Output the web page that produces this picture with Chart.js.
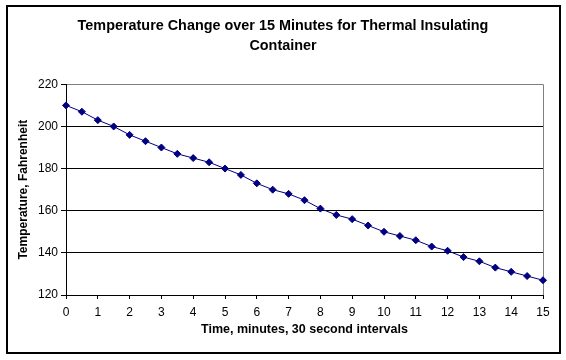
<!DOCTYPE html>
<html>
<head>
<meta charset="utf-8">
<script src="https://cdn.jsdelivr.net/npm/chart.js@4.4.0/dist/chart.umd.min.js"></script>
<style>
  html, body { margin: 0; padding: 0; background: #fff; }
  #wrap { width: 566px; height: 360px; }
</style>
</head>
<body>
<div id="wrap"><canvas id="tempChart" width="566" height="360"></canvas></div>
<script>
// minutes, every 30 seconds
const minutes = [0, 0.5, 1, 1.5, 2, 2.5, 3, 3.5, 4, 4.5, 5, 5.5, 6, 6.5, 7, 7.5,
  8, 8.5, 9, 9.5, 10, 10.5, 11, 11.5, 12, 12.5, 13, 13.5, 14, 14.5, 15];
const temps = [210, 207, 203, 200, 196, 193, 190, 187, 185, 183, 180, 177, 173, 170, 168, 165,
  161, 158, 156, 153, 150, 148, 146, 143, 141, 138, 136, 133, 131, 129, 127];
const titleLines = ['Temperature Change over 15 Minutes for Thermal Insulating', 'Container'];
const xTitle = 'Time, minutes, 30 second intervals';
const yTitle = 'Temperature, Fahrenheit';

// outer frame like the excel chart border
const frame = {
  id: 'frame',
  beforeDraw(chart) {
    const c = chart.ctx;
    c.save();
    c.fillStyle = '#fff';
    c.fillRect(0, 0, chart.width, chart.height);
    c.strokeStyle = '#000';
    c.lineWidth = 2;
    c.strokeRect(7, 6, 553, 347);
    c.restore();
  }
};

const ctx = document.getElementById('tempChart').getContext('2d');
new Chart(ctx, {
  type: 'line',
  data: {
    datasets: [{
      data: minutes.map((m, i) => ({ x: m, y: temps[i] })),
      borderColor: '#000080',
      backgroundColor: '#000080',
      borderWidth: 1,
      pointStyle: 'rectRot',
      pointRadius: 3.5,
      pointHoverRadius: 3.5,
      tension: 0,
      clip: false
    }]
  },
  options: {
    responsive: false,
    animation: false,
    layout: { padding: 0 },
    plugins: {
      legend: { display: false },
      tooltip: { enabled: false },
      title: {
        display: true,
        text: titleLines,
        color: '#000',
        font: { family: 'Liberation Sans', size: 14.4, weight: 'bold', lineHeight: 1.4 },
        padding: { top: 16, bottom: 28 }
      }
    },
    scales: {
      x: {
        type: 'linear',
        min: 0,
        max: 15,
        afterFit(scale) { scale.height = 65; },
        ticks: {
          stepSize: 1,
          color: '#000',
          padding: 6,
          maxRotation: 0,
          font: { family: 'Liberation Sans', size: 12 }
        },
        grid: {
          color: c => (c.tick && c.tick.value === 15 ? '#808080' : 'rgba(0,0,0,0)'),
          tickColor: '#000',
          tickLength: 4
        },
        border: { display: true, color: '#000', width: 1 },
        title: {
          display: true,
          text: xTitle,
          color: '#000',
          font: { family: 'Liberation Sans', size: 12.5, weight: 'bold' },
          padding: { top: 4, bottom: 23 }
        }
      },
      y: {
        min: 120,
        max: 220,
        afterFit(scale) { scale.width = 66; },
        ticks: {
          stepSize: 20,
          color: '#000',
          padding: 3,
          font: { family: 'Liberation Sans', size: 12 }
        },
        grid: {
          color: c => (c.tick && c.tick.value === 220 ? '#808080' : '#000'),
          tickColor: '#000',
          tickLength: 5
        },
        border: { display: true, color: '#000', width: 1 },
        title: {
          display: true,
          text: yTitle,
          color: '#000',
          font: { family: 'Liberation Sans', size: 12, weight: 'bold' },
          padding: { top: 16, bottom: 4 }
        }
      },
      // empty right-hand strip so the title stays centred on the whole frame
      yRight: {
        position: 'right',
        min: 120,
        max: 220,
        afterFit(scale) { scale.width = 23; },
        ticks: { display: false },
        grid: { display: false },
        border: { display: false }
      }
    }
  },
  plugins: [frame]
});
</script>
</body>
</html>
